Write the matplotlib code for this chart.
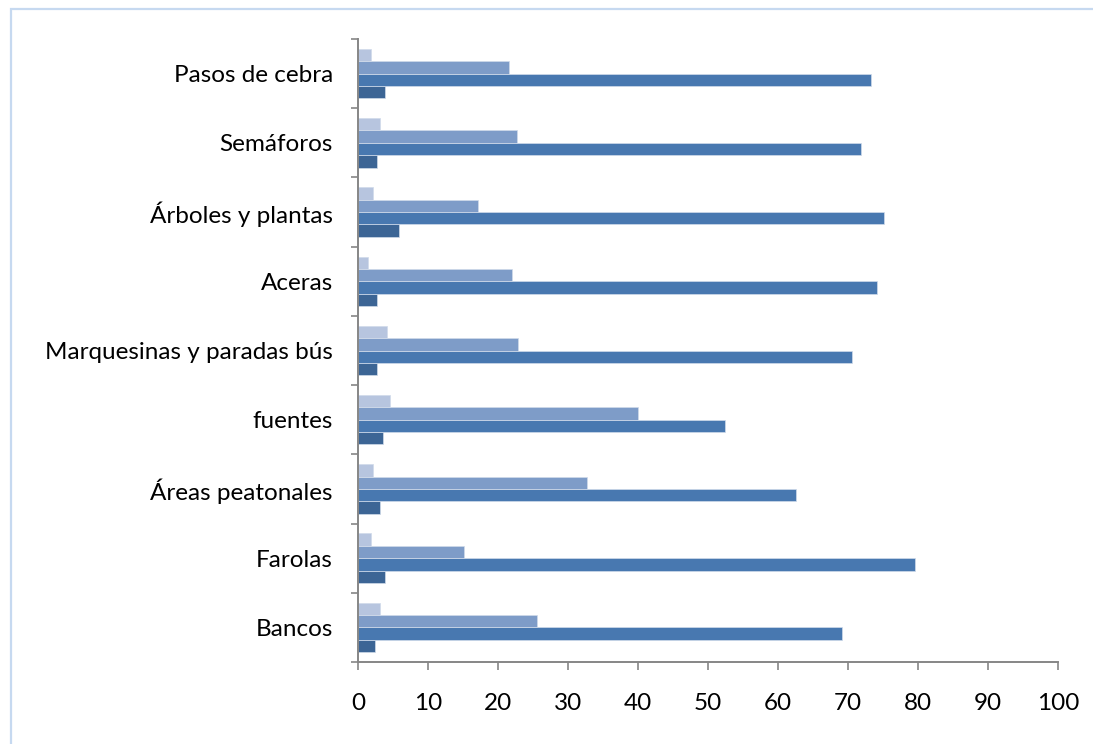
import matplotlib
matplotlib.use("Agg")
import matplotlib.pyplot as plt
import numpy as np
from matplotlib.patches import Rectangle

categories = ["Bancos", "Farolas", "Áreas peatonales", "fuentes",
              "Marquesinas y paradas bús", "Aceras", "Árboles y plantas",
              "Semáforos", "Pasos de cebra"]
serie_1 = [2.4, 3.8, 3.1, 3.5, 2.7, 2.7, 5.8, 2.7, 3.8]        # dark
serie_2 = [69.2, 79.6, 62.5, 52.4, 70.6, 74.2, 75.2, 71.9, 73.3]  # medium
serie_3 = [25.5, 15.2, 32.7, 40.0, 22.9, 22.0, 17.2, 22.7, 21.6]  # medium light
serie_4 = [3.1, 1.8, 2.1, 4.5, 4.1, 1.4, 2.1, 3.1, 1.8]        # light
x_ticks = [0, 10, 20, 30, 40, 50, 60, 70, 80, 90, 100]

series = [serie_1, serie_2, serie_3, serie_4]
colors = ["#3C6595", "#4878B0", "#7E9CC8", "#B7C5DF"]

W, H = 1093, 744
fig = plt.figure(figsize=(W / 100, H / 100), dpi=100)
ax = fig.add_axes([358 / W, (H - 662) / H, (1058 - 358) / W, (662 - 39) / H])

n = len(series)
bh = 1 / 5.6
y = np.arange(len(categories))
for i, (vals, c) in enumerate(zip(series, colors)):
    offs = (i - (n - 1) / 2) * bh
    ax.barh(y + offs, vals, height=bh, color=c, edgecolor="#D0DBEA",
            linewidth=0.5, zorder=2)

ax.set_xlim(0, 100)
ax.set_ylim(-0.5, len(categories) - 0.5)
ax.set_xticks(x_ticks)
ax.set_xticklabels([str(t) for t in x_ticks])
ax.set_yticks(np.arange(len(categories) + 1) - 0.5)
ax.set_yticklabels([])
ax.set_yticks(y, minor=True)
ax.set_yticklabels(categories, minor=True)

font = "Lato"
fs = 17.5
for lab in ax.get_xticklabels() + ax.get_yticklabels(minor=True):
    lab.set_fontfamily(font)
    lab.set_fontsize(fs)
    lab.set_color("black")

ax.tick_params(axis="y", which="major", length=5, width=1.2, color="#868686", direction="out")
ax.tick_params(axis="y", which="minor", length=0, pad=18)
ax.tick_params(axis="x", which="major", length=6, width=1.2, color="#868686", direction="out", pad=16)

for s in ["top", "right"]:
    ax.spines[s].set_visible(False)
for s in ["left", "bottom"]:
    ax.spines[s].set_color("#868686")
    ax.spines[s].set_linewidth(1.4)

fig.patches.append(Rectangle((11 / W, -0.05), 1.2, 1.05 - 9 / H,
                             transform=fig.transFigure, fill=False,
                             edgecolor="#C6D9F0", linewidth=1.6))

fig.savefig("out.png", dpi=100)
